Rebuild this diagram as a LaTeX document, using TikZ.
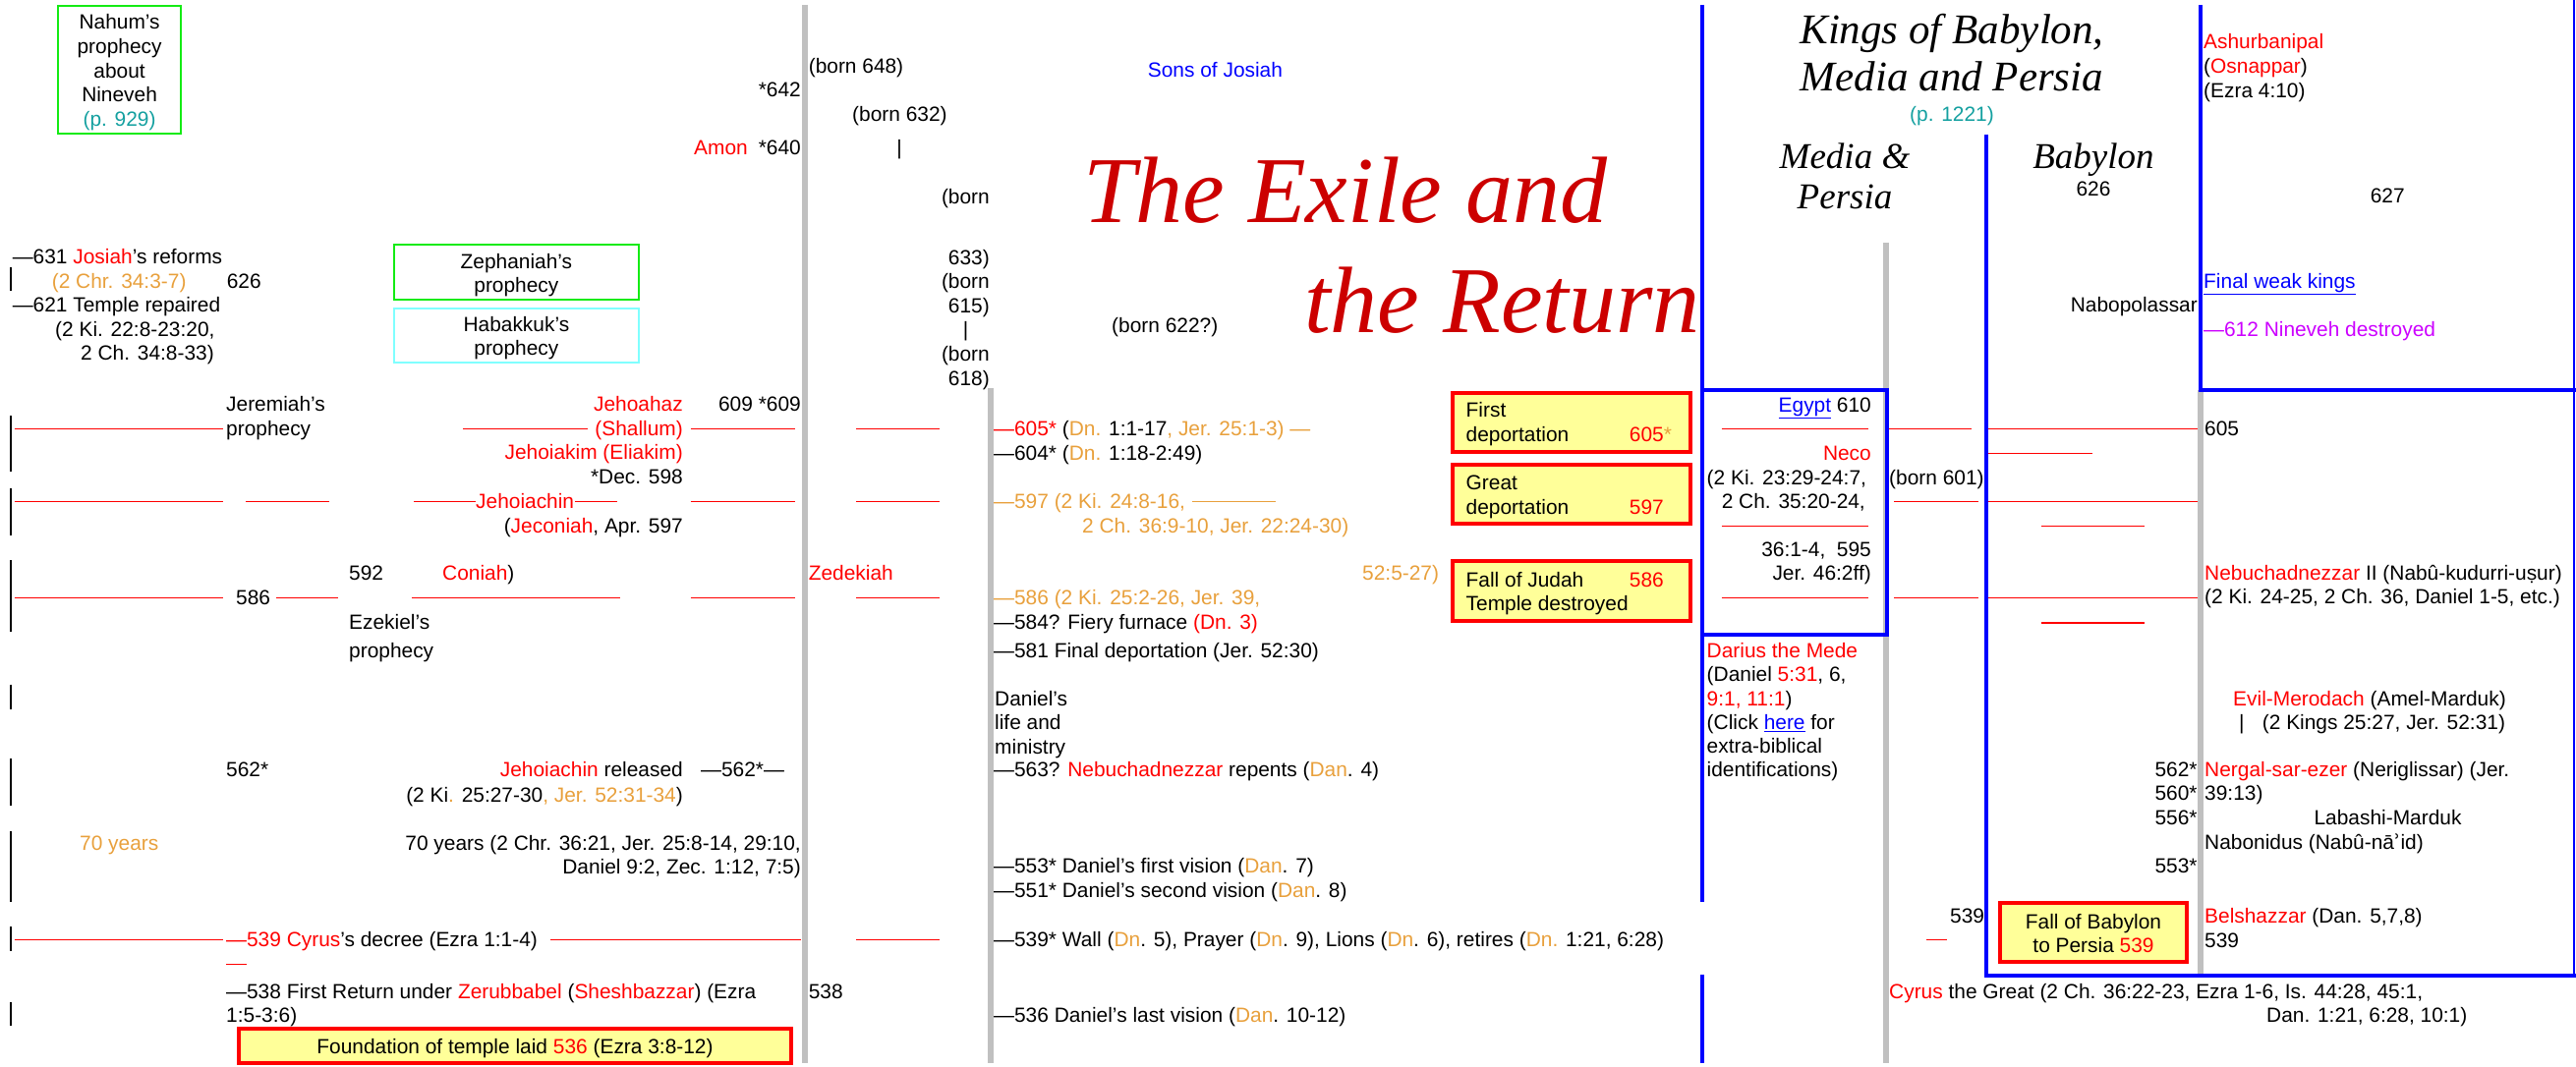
\documentclass[tikz,border=0pt]{standalone}
\usepackage{fontspec}
\setmainfont{Liberation Sans}
\newfontfamily\titlefont{Liberation Serif}
\newfontfamily\dejavu{DejaVu Sans}
\usepackage{tikz}
\usepackage{xcolor}
\definecolor{kingred}{RGB}{255,0,0}
\definecolor{titlered}{RGB}{204,0,0}
\definecolor{refochre}{RGB}{232,160,60}
\definecolor{pageteal}{RGB}{20,160,160}
\definecolor{prophgreen}{RGB}{20,235,20}
\definecolor{prophcyan}{RGB}{128,255,255}
\definecolor{eventyellow}{RGB}{255,255,153}
\definecolor{colblue}{RGB}{0,0,255}
\definecolor{colgray}{RGB}{192,192,192}
\definecolor{ninevehpink}{RGB}{204,0,255}
\newcommand{\kred}[1]{\textcolor{kingred}{#1}}
\newcommand{\refo}[1]{\textcolor{refochre}{#1}}
\newcommand{\linkb}[1]{\textcolor{colblue}{\underline{#1}}}

\begin{document}
\begin{tikzpicture}[x=1pt,y=1pt]
\tikzstyle{every node}+=[inner sep=0pt, anchor=base west, font=\fontsize{20.9}{24.6}\selectfont]
\tikzstyle{redline}=[kingred, line width=1.5pt]
\tikzstyle{grayline}=[colgray, line width=6pt]
\tikzstyle{blueline}=[colblue, line width=4pt]
\tikzstyle{tick}=[black, line width=2pt]
\tikzstyle{eventbox}=[draw=kingred, line width=4pt, fill=eventyellow]
\tikzstyle{greenbox}=[draw=prophgreen, line width=1.8pt]
\tikzstyle{cyanbox}=[draw=prophcyan, line width=1.8pt]
\tikzstyle{bigtitle}=[font=\titlefont\itshape\fontsize{96}{111}\selectfont, text=titlered]
\tikzstyle{heading}=[font=\titlefont\itshape\fontsize{43}{48}\selectfont]
\tikzstyle{subheading}=[font=\titlefont\itshape\fontsize{37}{41}\selectfont]
\useasboundingbox (0,0) rectangle (2621,-1086);
\draw [grayline] (819,-5) -- (819,-1082);
\draw [grayline] (1008,-395) -- (1008,-1082);
\draw [grayline] (1918.7,-247) -- (1918.7,-1082);
\draw [grayline] (2238.6,-396.7) -- (2238.6,-991.7);
\draw [blueline] (1732,-5) -- (1732,-918.3);
\draw [blueline] (1732,-992) -- (1732,-1082);
\draw [blueline] (2021,-137) -- (2021,-993.3) -- (2621,-993.3);
\draw [blueline] (2238.6,-5) -- (2238.6,-396.7) -- (2621,-396.7);
\draw [colblue, line width=2pt] (2619,0) -- (2619,-993.3);
\draw [blueline] (1732,-396.7) rectangle (1919.5,-646);
\draw [tick] (10.5,-272) -- (10.5,-296);
\draw [tick] (10.5,-423) -- (10.5,-480);
\draw [tick] (10.5,-496.7) -- (10.5,-545);
\draw [tick] (10.5,-570) -- (10.5,-643);
\draw [tick] (10.5,-696.7) -- (10.5,-721.7);
\draw [tick] (10.5,-771.7) -- (10.5,-820);
\draw [tick] (10.5,-846) -- (10.5,-918.3);
\draw [tick] (10.5,-943) -- (10.5,-967.7);
\draw [tick] (10.5,-1020) -- (10.5,-1044);
\draw [redline] (14.7,-436.7) -- (227,-436.7);
\draw [redline] (471,-436.7) -- (597.6,-436.7);
\draw [redline] (702.6,-436.7) -- (809,-436.7);
\draw [redline] (871,-436.7) -- (956,-436.7);
\draw [redline] (1751.6,-436.7) -- (1900.6,-436.7);
\draw [redline] (1922,-436.7) -- (2005.5,-436.7);
\draw [redline] (2023,-436.7) -- (2235.7,-436.7);
\draw [redline] (2023,-461.7) -- (2129,-461.7);
\draw [redline] (14.7,-510.7) -- (227,-510.7);
\draw [redline] (250.4,-510.7) -- (334.6,-510.7);
\draw [redline] (421,-510.7) -- (484,-510.7);
\draw [redline] (585,-510.7) -- (628,-510.7);
\draw [redline] (702.6,-510.7) -- (809,-510.7);
\draw [redline] (871,-510.7) -- (956,-510.7);
\draw [redline] (1927,-510.7) -- (2012.6,-510.7);
\draw [redline] (2023,-510.7) -- (2235.7,-510.7);
\draw [redline] (1751.6,-535.7) -- (1900.6,-535.7);
\draw [redline] (2077,-535.7) -- (2182,-535.7);
\draw [redline] (14.7,-608.7) -- (227,-608.7);
\draw [redline] (281,-608.7) -- (344,-608.7);
\draw [redline] (418.8,-608.7) -- (631.3,-608.7);
\draw [redline] (702.6,-608.7) -- (809,-608.7);
\draw [redline] (871,-608.7) -- (956,-608.7);
\draw [redline] (1751.6,-608.7) -- (1900.6,-608.7);
\draw [redline] (1927,-608.7) -- (2012.6,-608.7);
\draw [redline] (2023,-608.7) -- (2235.7,-608.7);
\draw [redline] (2077,-634) -- (2182,-634);
\draw [redline] (14.7,-956.7) -- (227,-956.7);
\draw [redline] (560,-956.7) -- (815,-956.7);
\draw [redline] (871,-956.7) -- (956,-956.7);
\draw [redline] (1960,-956.7) -- (1981,-956.7);
\draw [redline] (230,-981.7) -- (251.3,-981.7);
\draw [refochre, line width=1.5pt] (1213,-510.7) -- (1298,-510.7);
\draw [greenbox] (59,-6) rectangle (184,-136);
\draw (121.6,-128.4) node[anchor=base, align=center] (nahum) {Nahum’s\\prophecy\\about\\Nineveh\\\textcolor{pageteal}{(p. 929)}};
\draw [greenbox] (400.7,-249) rectangle (650,-305);
\draw (525.4,-297.6) node[anchor=base, align=center] (zephaniah) {Zephaniah’s\\prophecy};
\draw [cyanbox] (400.7,-314) rectangle (650,-369);
\draw (525.4,-361.6) node[anchor=base, align=center] (habakkuk) {Habakkuk’s\\prophecy};
\draw (12.6,-268) node (reforms) {—631 \kred{Josiah}’s reforms};
\draw (52.6,-293) node (reformref) {\refo{(2 Chr. 34:3-7)}};
\draw (230.6,-293) node (josiah626) {626};
\draw (12.6,-317) node (repaired) {—621 Temple repaired};
\draw (56,-342) node (repairref) {(2 Ki. 22:8-23:20,};
\draw (82,-366) node (repairref2) {2 Ch. 34:8-33)};
\draw (822.6,-75) node (born648) {(born 648)};
\draw (815,-99) node[anchor=base east] (amon642) {*642};
\draw (867,-124) node (born632) {(born 632)};
\draw (706,-158) node (amon) {\kred{Amon}};
\draw (815,-158) node[anchor=base east] (amon640) {*640};
\draw (915,-158) node[anchor=base] (bar632) {|};
\draw (1007,-208) node[anchor=base east] (born633a) {(born};
\draw (1007,-318.2) node[anchor=base east, align=right] (born633b) {633)\\(born\\615)};
\draw (982.5,-342.8) node[anchor=base] (bar615) {|};
\draw (1007,-392) node[anchor=base east, align=right] (born618) {(born\\618)};
\draw (1167.7,-79) node (sons) {\textcolor{colblue}{Sons of Josiah}};
\draw (1131,-338) node (born622) {(born 622?)};
\draw (1102,-227) node[bigtitle] (title1) {The Exile and};
\draw (1327,-338) node[bigtitle] (title2) {the Return};
\draw (1986,-93) node[heading, anchor=base, align=center] (kings) {Kings of Babylon,\\Media and Persia};
\draw (1986,-124) node[anchor=base] (kingspage) {\textcolor{pageteal}{(p. 1221)}};
\draw (1877,-213) node[subheading, anchor=base, align=center] (mediapersia) {Media \&\\Persia};
\draw (2130,-172) node[subheading, anchor=base] (babylon) {Babylon};
\draw (2130,-200) node[anchor=base] (babylon626) {626};
\draw (2411.6,-207) node (assyria627) {627};
\draw (2242,-99.2) node[align=left] (ashurbanipal) {\kred{Ashurbanipal}\\(\kred{Osnappar})\\(Ezra 4:10)};
\draw (2242,-293) node (weakkings) {\linkb{Final weak kings}};
\draw (2236,-317) node[anchor=base east] (nabopolassar) {Nabopolassar};
\draw (2242,-342) node (nineveh) {\textcolor{ninevehpink}{—612 Nineveh destroyed}};
\draw (230,-443.3) node[align=left] (jeremiah) {Jeremiah’s\\prophecy};
\draw (695,-492.5) node[anchor=base east, align=right] (jehoahaz) {\kred{Jehoahaz}\\\kred{(Shallum)}\\\kred{Jehoiakim (Eliakim)}\\*Dec. 598};
\draw (815,-418.7) node[anchor=base east] (yr609) {609 *609};
\draw (1011,-443.7) node (dan605) {\kred{—605*} (\refo{Dn.} 1:1-17\refo{, Jer. 25:1-3) —}};
\draw (1011,-468) node (dan604) {—604* (\refo{Dn.} 1:18-2:49)};
\draw (484,-517.7) node (jehoiachin) {\kred{Jehoiachin}};
\draw (695,-542) node[anchor=base east] (jeconiah) {(\kred{Jeconiah}, Apr. 597};
\draw (1011,-517.7) node (ref597) {\refo{—597 (2 Ki. 24:8-16,}};
\draw (1101,-542) node (ref597b) {\refo{2 Ch. 36:9-10, Jer. 22:24-30)}};
\draw (355,-590.3) node (ezek592) {592};
\draw (450,-590.3) node (coniah) {\kred{Coniah})};
\draw (822.6,-590.3) node (zedekiah) {\kred{Zedekiah}};
\draw (1386,-590.3) node (ref586b) {\refo{52:5-27)}};
\draw (240,-615.7) node (yr586) {586};
\draw (1011,-615.7) node (ref586) {\refo{—586 (2 Ki. 25:2-26, Jer. 39,}};
\draw (355,-669.6) node[align=left] (ezekiel) {Ezekiel’s\\[4.7pt]prophecy};
\draw (1011,-640.3) node (furnace) {—584? Fiery furnace \kred{(Dn. 3)}};
\draw (1011,-669.7) node (finaldep) {—581 Final deportation (Jer. 52:30)};
\draw (1012,-767.2) node[align=left] (daniel) {Daniel’s\\life and\\ministry};
\draw (230,-790.3) node (yr562) {562*};
\draw (695,-790.3) node[anchor=base east] (released) {\kred{Jehoiachin} released};
\draw (713,-790.3) node (dash562) {—562*—};
\draw (695,-816.3) node[anchor=base east] (releaseref) {(2 Ki\refo{.} 25:27-30\refo{, Jer. 52:31-34})};
\draw (1011,-790.3) node (repents) {—563? \kred{Nebuchadnezzar} repents (\refo{Dan}. 4)};
\draw (81,-865.3) node (seventy) {\refo{70 years}};
\draw (815,-889.9) node[anchor=base east, align=right] (seventyref) {70 years (2 Chr. 36:21, Jer. 25:8-14, 29:10,\\Daniel 9:2, Zec. 1:12, 7:5)};
\draw (1011,-913.3) node[align=left] (visions) {—553* Daniel’s first vision (\refo{Dan}. 7)\\—551* Daniel’s second vision (\refo{Dan}. 8)};
\draw (230,-963.7) node (decree) {\kred{—539 Cyrus}’s decree (Ezra 1:1-4)};
\draw (1011,-963) node (wall) {—539* Wall (\refo{Dn}. 5), Prayer (\refo{Dn}. 9), Lions (\refo{Dn}. 6), retires (\refo{Dn.} 1:21, 6:28)};
\draw (230,-1040.9) node[align=left] (firstreturn) {—538 First Return under \kred{Zerubbabel} (\kred{Sheshbazzar}) (Ezra\\1:5-3:6)};
\draw (822.6,-1016.3) node (yr538) {538};
\draw (1011,-1040.3) node (lastvision) {—536 Daniel’s last vision (\refo{Dan}. 10-12)};
\draw [eventbox] (243,-1046.7) rectangle (805,-1081.7);
\draw (524,-1072) node[anchor=base] (foundation) {Foundation of temple laid \kred{536} (Ezra 3:8-12)};
\draw [eventbox] (1478,-400) rectangle (1720,-460);
\draw (1491.5,-449.3) node[align=left] (firstdep) {First\\deportation};
\draw (1657.7,-449.7) node (firstdep605) {\kred{605}\refo{*}};
\draw [eventbox] (1478,-473) rectangle (1720,-533);
\draw (1491.5,-523.3) node[align=left] (greatdep) {Great\\deportation};
\draw (1657.7,-523.7) node (greatdep597) {\kred{597}};
\draw [eventbox] (1478,-571) rectangle (1720,-632);
\draw (1491.5,-621.6) node[align=left] (judahfall) {Fall of Judah\\Temple destroyed};
\draw (1657.7,-597) node (judahfall586) {\kred{586}};
\draw (1904,-419.3) node[anchor=base east] (egypt) {\linkb{Egypt} 610};
\draw (1904,-468) node[anchor=base east] (neco) {\kred{Neco}};
\draw (1736.5,-493.7) node (necoref) {(2 Ki. 23:29-24:7,};
\draw (1751.6,-517) node (necoref2) {2 Ch. 35:20-24,};
\draw (1904,-590.9) node[anchor=base east, align=right] (necoref3) {36:1-4,\ \ 595\\Jer. 46:2ff)};
\draw (1922,-493.7) node (born601) {(born 601)};
\draw (1736.5,-790.7) node[align=left, font=\fontsize{20.9}{24.2}\selectfont] (darius) {\kred{Darius the Mede}\\(Daniel \kred{5:31}, 6,\\\kred{9:1, 11:1})\\(Click \linkb{here} for\\extra-biblical\\identifications)};
\draw (2243,-443.7) node (babylon605) {605};
\draw (2243,-614.9) node[align=left] (nebuchadnezzar) {\kred{Nebuchadnezzar} II (Nabû-kudurri-uṣur)\\(2 Ki. 24-25, 2 Ch. 36, Daniel 1-5, etc.)};
\draw (2272,-718) node (evilmerodach) {\kred{Evil-Merodach} (Amel-Marduk)};
\draw (2280.7,-742) node[anchor=base] (barmerodach) {|};
\draw (2301.7,-742) node (merodachref) {(2 Kings 25:27, Jer. 52:31)};
\draw (2235.7,-839.5) node[anchor=base east, align=right] (yr562b) {562*\\560*\\556*};
\draw (2235.7,-888.7) node[anchor=base east] (yr553) {553*};
\draw (2243,-814.9) node[align=left] (nergal) {\kred{Nergal-sar-ezer} (Neriglissar) (Jer.\\39:13)};
\draw (2354.4,-839.7) node (labashi) {Labashi-Marduk};
\draw (2243,-864.7) node (nabonidus) {Nabonidus (Nabû-nā{\dejavu ʾ}id)};
\draw (1984,-939.7) node (persia539) {539};
\draw [eventbox] (2035,-919.3) rectangle (2225,-979.3);
\draw (2130,-969.9) node[anchor=base, align=center] (babylonfall) {Fall of Babylon\\to Persia \kred{539}};
\draw (2243,-964.3) node[align=left] (belshazzar) {\kred{Belshazzar} (Dan. 5,7,8)\\539};
\draw (1922,-1016.3) node (cyrus) {\kred{Cyrus} the Great (2 Ch. 36:22-23, Ezra 1-6, Is. 44:28, 45:1,};
\draw (2306,-1040.3) node (cyrusref) {Dan. 1:21, 6:28, 10:1)};
\end{tikzpicture}
\end{document}
